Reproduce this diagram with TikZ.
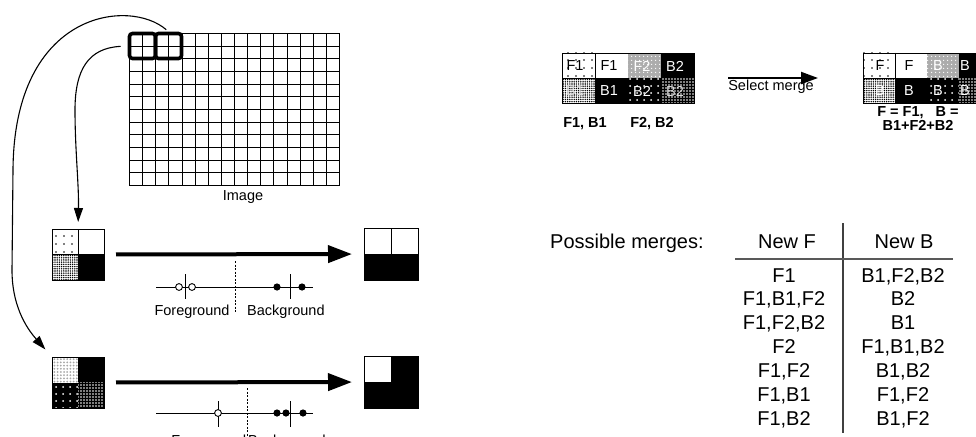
\documentclass[tikz,border=0pt]{standalone}
\usepackage{fontspec}
\setmainfont{Liberation Sans}
\usetikzlibrary{patterns,patterns.meta,arrows.meta,calc}
\begin{document}
\begin{tikzpicture}[x=1pt,y=-1pt,
  gridline/.style={line width=1.1pt},
  winbox/.style={draw, line width=3.6pt, rounded corners=3pt,
    minimum width=26pt, minimum height=25pt, inner sep=0pt},
  blk/.style={inner sep=0pt, outer sep=0pt},
  cellline/.style={draw=black, line width=0.8pt},
  curvearrow/.style={line width=1.1pt, -{Triangle[length=14pt,width=9pt]}},
  bigarrow/.style={line width=4pt, -{Triangle[length=24pt,width=17pt]}},
  midarrow/.style={line width=2pt, -{Triangle[length=17pt,width=12pt]}},
  axis/.style={line width=0.9pt},
  dashline/.style={line width=0.8pt, dash pattern=on 2pt off 1.5pt},
  opendot/.style={draw=black, fill=white, line width=0.9pt},
  small/.style={font=\fontsize{14.5}{17}\selectfont, inner sep=0pt},
  smallbold/.style={font=\fontsize{14.5}{17}\selectfont\bfseries, inner sep=0pt},
  big/.style={font=\fontsize{20}{24}\selectfont, inner sep=0pt},
  sparse/.style={pattern={Dots[distance=8pt,radius=0.9pt]}, pattern color=black},
  finegrey/.style={pattern={Dots[distance=2.2pt,radius=0.8pt]}, pattern color=black},
  whitegrey/.style={pattern={Dots[distance=3.2pt,radius=1pt]}, pattern color=gray!70},
  blackdots/.style={preaction={fill=black}, pattern={Dots[distance=7pt,radius=1pt]}, pattern color=white},
  blackdense/.style={preaction={fill=black}, pattern={Dots[distance=3pt,radius=0.8pt]}, pattern color=white},
  greywhite/.style={preaction={fill=gray!65}, pattern={Dots[distance=4pt,radius=0.8pt]}, pattern color=white},
]
\useasboundingbox (0,0) rectangle (976,436);
\fill[white] (0,0) rectangle (976,436);

% ---------- image grid (16 x 12 cells) ----------
\foreach \i in {0,...,16}
  \draw[gridline] ({129.5+round(13.125*\i)},33.5) -- ({129.5+round(13.125*\i)},185.5);
\foreach \j in {0,...,12}
  \draw[gridline] (129.5,{33.5+round(12.667*\j)}) -- (339.5,{33.5+round(12.667*\j)});
\node[winbox] (winL) at (142.5,46) {};
\node[winbox] (winR) at (168.5,46) {};
\node[small, anchor=base] (imglabel) at (243,200) {Image};

% ---------- first window ----------
\node[blk, minimum width=52pt, minimum height=51pt] (mixA) at (78,254.5) {};
\path[sparse] (52,229) rectangle (78,254.5);
\path[finegrey] (52,254.5) rectangle (78,280);
\fill[black] (78,254.5) rectangle (104,280);
\draw[cellline] (52,229) rectangle (104,280);
\draw[cellline] (78,229) -- (78,280) (52,254.5) -- (104,254.5);

\node[blk, minimum width=54pt, minimum height=52pt] (pureA) at (391,254) {};
\fill[black] (364,254) rectangle (418,280);
\draw[cellline] (364,228) rectangle (418,280);
\draw[cellline] (391,228) -- (391,254);

\draw[bigarrow, shorten <=12pt, shorten >=12pt] (mixA) -- (pureA);

% number line, first window
\draw[axis] (156,287) -- (313,287);
\draw[axis] (185,274) -- (185,299);
\draw[axis] (290,274) -- (290,299);
\draw[opendot] (179,287) circle[radius=3.4pt];
\draw[opendot] (192,287) circle[radius=3.4pt];
\fill (277,287) circle[radius=3.6pt];
\fill (302,287) circle[radius=3.6pt];
\draw[dashline] (235,261) -- (235,312);
\node[small, anchor=base] (fgA) at (192,315) {Foreground};
\node[small, anchor=base west] (bgA) at (247,315) {Background};

% ---------- second window ----------
\node[blk, minimum width=52pt, minimum height=51pt] (mixB) at (78,382.5) {};
\path[whitegrey] (52,357) rectangle (78,382.5);
\fill[black] (78,357) rectangle (104,382.5);
\path[blackdots] (52,382.5) rectangle (78,408);
\path[blackdense] (78,382.5) rectangle (104,408);
\draw[cellline] (52,357) rectangle (104,408);

\node[blk, minimum width=54pt, minimum height=52pt] (pureB) at (391,382) {};
\fill[black] (364,356) rectangle (418,408);
\fill[white] (364,356) rectangle (391,382);
\draw[cellline] (364,356) rectangle (418,408);
\draw[cellline] (364,382) -- (391,382) -- (391,356);

\draw[bigarrow, shorten <=12pt, shorten >=12pt] (mixB) -- (pureB);

% number line, second window
\draw[axis] (156,413) -- (313,413);
\draw[axis] (218,401) -- (218,427);
\draw[axis] (290,401) -- (290,427);
\draw[opendot] (218,413) circle[radius=3.4pt];
\fill (277,413) circle[radius=3.6pt];
\fill (286,413) circle[radius=3.6pt];
\fill (303,413) circle[radius=3.6pt];
\draw[dashline] (247,388) -- (247,440);
\node[small, anchor=base east] (fgB) at (246.5,445) {Foreground};
\node[small, anchor=base west] (bgB) at (248,445) {Background};

% ---------- curved connectors ----------
\draw[curvearrow, shorten <=3pt, shorten >=10pt] (winR.north)
  .. controls (130,-2) and (14,10) .. (13,170) -- (12,270)
  .. controls (12,310) and (30,332) .. (mixB.north west);
\draw[curvearrow, shorten <=7pt, shorten >=7pt] (winL.west)
  .. controls (88,48) and (75,70) .. (75,110)
  .. controls (75,150) and (79,185) .. (mixA.north);

% ---------- merge example ----------
\node[blk, minimum width=132pt, minimum height=50pt] (setL) at (628,78) {};
\path[sparse] (562,53) rectangle (595,78);
\path[greywhite] (628,53) rectangle (661,78);
\fill[black] (661,53) rectangle (694,78);
\path[finegrey] (562,78) rectangle (595,103);
\fill[black] (595,78) rectangle (628,103);
\path[blackdots] (628,78) rectangle (661,103);
\path[blackdense] (661,78) rectangle (694,103);
\draw[cellline] (562,53) rectangle (694,103);
\draw[cellline] (595,53) -- (595,78) (562,78) -- (595,78);
\node[small] at (575,66) {F1};
\node[small] at (609,66) {F1};
\node[small, text=white] at (642,66) {F2};
\node[small, text=white] at (675,66) {B2};
\node[small, text=gray!30] at (575,91) {B1};
\node[small, text=white] at (609,91) {B1};
\node[small, text=white] at (642,91) {B2};
\node[small, text=white!85!black] at (675,91) {B2};
\node[smallbold, anchor=base] at (585,127) {F1, B1};
\node[smallbold, anchor=base] at (652,127) {F2, B2};

\node[blk, minimum width=128pt, minimum height=50pt] (setR) at (927,78) {};
\path[sparse] (863,53) rectangle (895,78);
\path[greywhite] (927,53) rectangle (959,78);
\fill[black] (959,53) rectangle (991,78);
\path[finegrey] (863,78) rectangle (895,103);
\fill[black] (895,78) rectangle (927,103);
\path[blackdots] (927,78) rectangle (959,103);
\path[blackdense] (959,78) rectangle (991,103);
\draw[cellline] (863,53) rectangle (991,103);
\draw[cellline] (895,53) -- (895,78) (863,78) -- (895,78);
\node[small] at (880,66) {F};
\node[small] at (909,66) {F};
\node[small, text=white] at (938,66) {B};
\node[small, text=white] at (965,66) {B};
\node[small, text=white] at (880,91) {B};
\node[small, text=white] at (909,91) {B};
\node[small, text=white] at (938,91) {B};
\node[small, text=white] at (965,91) {B};
\node[smallbold, anchor=base] at (918,116) {F = F1,\ \ \ B =};
\node[smallbold, anchor=base] at (918,130) {B1+F2+B2};

\draw[midarrow, shorten <=34pt, shorten >=45pt] (setL) -- (setR);
\node[small, anchor=base] (selmerge) at (771,90) {Select merge};

% ---------- table of possible merges ----------
\node[big, anchor=base west] (possible) at (550,248) {Possible merges:};
\node[big, anchor=base] (hF) at (787,248) {New F};
\node[big, anchor=base] (hB) at (904,248) {New B};
\coordinate (vtop) at (843,223);
\coordinate (vbot) at (843,433);
\coordinate (hl) at (735,259);
\coordinate (hr) at (953,259);
\draw[line width=1.2pt, black!75] (vtop) -- (vbot);
\draw[line width=1.2pt, black!65] (hl) -- (hr);
\foreach \f/\b [count=\k from 0] in
  {F1/{B1,F2,B2}, {F1,B1,F2}/B2, {F1,F2,B2}/B1, F2/{F1,B1,B2},
   {F1,F2}/{B1,B2}, {F1,B1}/{F1,F2}, {F1,B2}/{B1,F2}} {
  \node[big, anchor=base] at (784,{282+23.9*\k}) {\f};
  \node[big, anchor=base] at (903,{282+23.9*\k}) {\b};
}
\end{tikzpicture}
\end{document}
